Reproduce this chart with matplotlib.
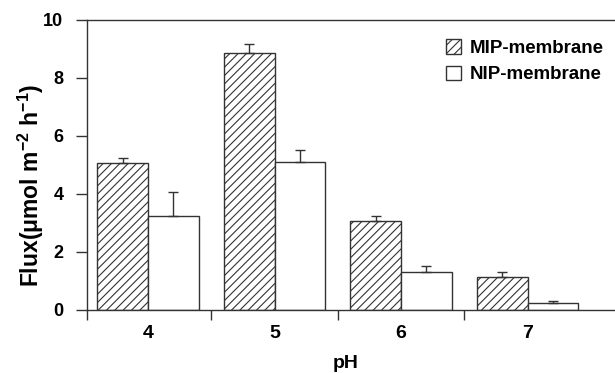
import numpy as np
import matplotlib
matplotlib.use("Agg")
import matplotlib.pyplot as plt
from matplotlib.patches import Patch

plt.rcParams['font.family'] = ['Liberation Sans', 'DejaVu Sans']
plt.rcParams['font.weight'] = 'bold'
plt.rcParams['hatch.linewidth'] = 0.8
plt.rcParams['mathtext.fontset'] = 'custom'
plt.rcParams['mathtext.bf'] = 'Liberation Sans:bold'
plt.rcParams['mathtext.rm'] = 'Liberation Sans:bold'
plt.rcParams['mathtext.default'] = 'bf'

ph_labels = ["4", "5", "6", "7"]
mip = [5.07, 8.85, 3.06, 1.12]
mip_err = [0.17, 0.29, 0.18, 0.19]
nip = [3.24, 5.08, 1.32, 0.23]
nip_err = [0.82, 0.43, 0.19, 0.07]

edge = '#333333'
x = np.arange(len(ph_labels))
w = 0.4

fig = plt.figure(figsize=(6.15, 3.73), dpi=100)
ax = fig.add_axes([87/615, 1 - 310/373, 1 - 87/615, (310 - 19.5)/373])

ax.bar(x - w/2, mip, w, color='white', edgecolor=edge, hatch='////', linewidth=1.0)
ax.bar(x + w/2, nip, w, color='white', edgecolor=edge, linewidth=1.0)
ax.errorbar(x - w/2, mip, yerr=[np.zeros(4), mip_err], fmt='none',
            ecolor=edge, elinewidth=1.0, capsize=3.5, capthick=1.0)
ax.errorbar(x + w/2, nip, yerr=[np.zeros(4), nip_err], fmt='none',
            ecolor=edge, elinewidth=1.0, capsize=3.5, capthick=1.0)

xl = (87 - 148) / 126.5
ax.set_xlim(xl, (615 - 148) / 126.5)
ax.set_ylim(0, 10)

for s in ['left', 'bottom', 'top']:
    ax.spines[s].set_color(edge)
    ax.spines[s].set_linewidth(1.0)
ax.spines['right'].set_visible(False)

ax.set_xticks(x)
ax.set_xticklabels(ph_labels, fontsize=14, fontweight='bold')
ax.tick_params(axis='x', length=0, pad=11)
ax.set_xticks([xl, 0.5, 1.5, 2.5], minor=True)
ax.tick_params(axis='x', which='minor', length=7.5, width=1.0, color=edge)

ax.set_yticks([0, 2, 4, 6, 8, 10])
ax.tick_params(axis='y', length=8, width=1.0, color=edge, labelsize=13, pad=9)
for t in ax.get_yticklabels():
    t.set_fontweight('bold')

ax.set_xlabel("pH", fontsize=14, fontweight='bold')
ax.xaxis.set_label_coords(0.49, -0.155)
ax.set_ylabel("Flux(μmol m$^{-2}$ h$^{-1}$)", fontsize=16.5, fontweight='bold')
ax.yaxis.set_label_coords(-0.077, 0.43)

handles = [Patch(facecolor='white', edgecolor=edge, hatch='////', linewidth=1.0),
           Patch(facecolor='white', edgecolor=edge, linewidth=1.0)]
ax.legend(handles, ["MIP-membrane", "NIP-membrane"], loc='upper right',
          bbox_to_anchor=(1.0, 0.97), frameon=False, fontsize=13.5,
          handlelength=0.8, handleheight=0.8, handletextpad=0.45,
          labelspacing=0.45, borderaxespad=0.2)

fig.savefig("out.png", dpi=100)
